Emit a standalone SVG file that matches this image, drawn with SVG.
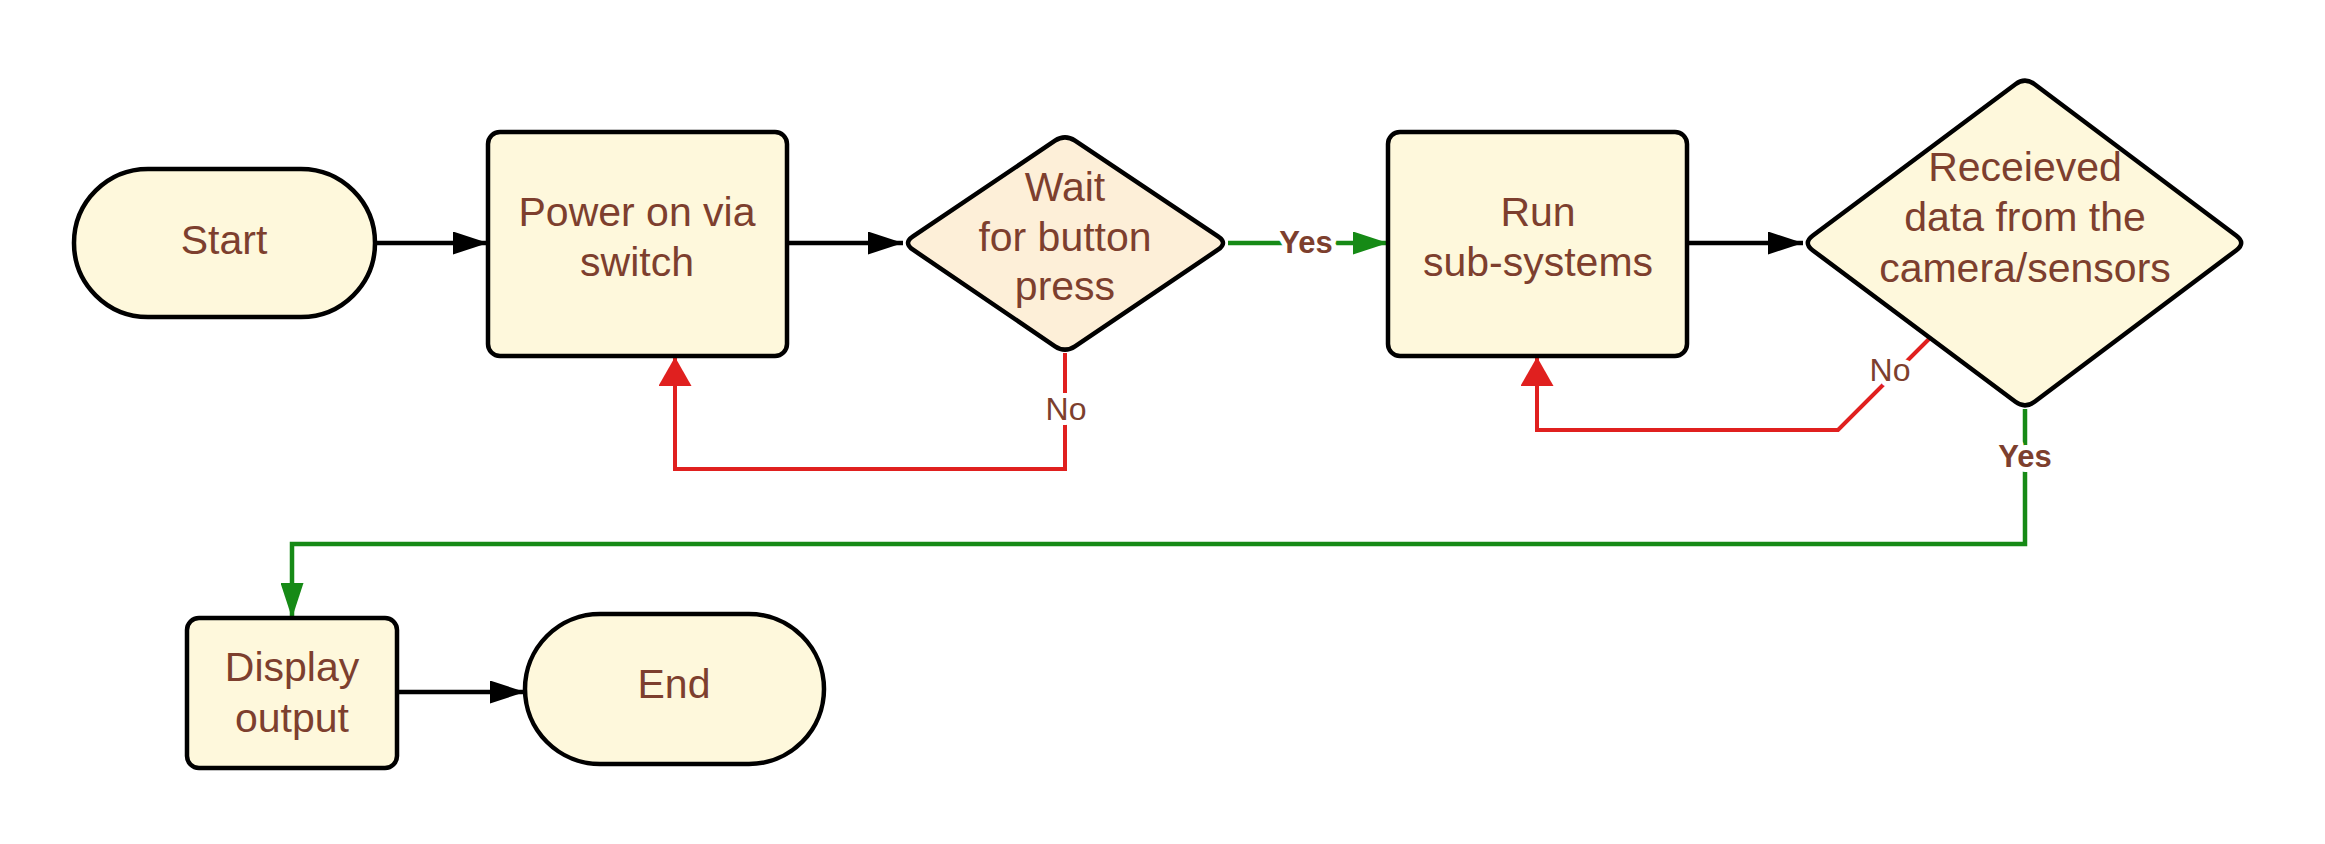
<svg xmlns="http://www.w3.org/2000/svg" width="2325" height="844" viewBox="0 0 2325 844">
<style>
.node{fill:#FEF8DC;stroke:#000;stroke-width:4.5;stroke-linejoin:round}
.dec{fill:#FDEFD8}
.t{font-family:"Liberation Sans",Arial,sans-serif;font-size:41px;fill:#7D3F2E;text-anchor:middle}
.c{fill:none;stroke-width:4.5;stroke-linejoin:miter}
.blk{stroke:#000}
.grn{stroke:#168A16}
.red{stroke:#E0201F;stroke-width:4}
.lbl{font-family:"Liberation Sans",Arial,sans-serif;fill:#7D3F2E;text-anchor:middle;stroke:#fff;stroke-width:10;paint-order:stroke;stroke-linejoin:round}
.yes{font-size:31px;font-weight:bold}
.no{font-size:32px}
</style>
<defs>
<marker id="ab" markerUnits="userSpaceOnUse" markerWidth="35" markerHeight="23" refX="35" refY="11.5" orient="auto"><path d="M0,0 L35,11.5 L0,23 z" fill="#000"/></marker>
<marker id="ag" markerUnits="userSpaceOnUse" markerWidth="35" markerHeight="23" refX="35" refY="11.5" orient="auto"><path d="M0,0 L35,11.5 L0,23 z" fill="#168A16"/></marker>
<marker id="ar" markerUnits="userSpaceOnUse" markerWidth="29" markerHeight="33" refX="29" refY="16.5" orient="auto"><path d="M0,0 L29,16.5 L0,33 z" fill="#E0201F"/></marker>
</defs>
<rect width="2325" height="844" fill="#fff"/>
<g id="connectors">
<path class="c blk" d="M375,243 L488,243" marker-end="url(#ab)"/>
<path class="c blk" d="M787,243 L903,243" marker-end="url(#ab)"/>
<path class="c grn" d="M1228,243 L1388,243" marker-end="url(#ag)"/>
<path class="c blk" d="M1687,243 L1803,243" marker-end="url(#ab)"/>
<path class="c red" d="M1065,353 L1065,469 L675,469 L675,357" marker-end="url(#ar)"/>
<path class="c red" d="M1930,338 L1838,430 L1537,430 L1537,357" marker-end="url(#ar)"/>
<path class="c grn" d="M2025,409 L2025,544 L292,544 L292,618" marker-end="url(#ag)"/>
<path class="c blk" d="M397,692 L525,692" marker-end="url(#ab)"/>
<text class="lbl yes" x="1306" y="253">Yes</text>
<text class="lbl no" x="1066" y="420">No</text>
<text class="lbl no" x="1890" y="381">No</text>
<text class="lbl yes" x="2025" y="467">Yes</text>
</g>
<g id="start">
<rect class="node" x="74" y="169" width="301" height="148" rx="74" ry="74"/>
<text class="t" x="224" y="254">Start</text>
</g>
<g id="power">
<rect class="node" x="488" y="132" width="299" height="224" rx="12"/>
<text class="t" x="637" y="226">Power on via</text>
<text class="t" x="637" y="276">switch</text>
</g>
<g id="wait">
<path class="node dec" d="M913,236.3 L1055,140.7 Q1065,134 1075,140.7 L1218,236.3 Q1228,243 1218,249.7 L1075,346.3 Q1065,353 1055,346.3 L913,249.7 Q903,243 913,236.3 Z"/>
<text class="t" x="1065" y="201">Wait</text>
<text class="t" x="1065" y="251">for button</text>
<text class="t" x="1065" y="300">press</text>
</g>
<g id="run">
<rect class="node" x="1388" y="132" width="299" height="224" rx="12"/>
<text class="t" x="1538" y="226">Run</text>
<text class="t" x="1538" y="276">sub-systems</text>
</g>
<g id="received">
<path class="node" d="M1812.6,235.8 L2015.4,84.2 Q2025,77 2034.6,84.2 L2236.4,235.8 Q2246,243 2236.4,250.2 L2034.6,401.8 Q2025,409 2015.4,401.8 L1812.6,250.2 Q1803,243 1812.6,235.8 Z"/>
<text class="t" x="2025" y="181">Receieved</text>
<text class="t" x="2025" y="231">data from the</text>
<text class="t" x="2025" y="282">camera/sensors</text>
</g>
<g id="display">
<rect class="node" x="187" y="618" width="210" height="150" rx="12"/>
<text class="t" x="292" y="681">Display</text>
<text class="t" x="292" y="732">output</text>
</g>
<g id="end">
<rect class="node" x="525" y="614" width="299" height="150" rx="75" ry="75"/>
<text class="t" x="674" y="698">End</text>
</g>
</svg>
